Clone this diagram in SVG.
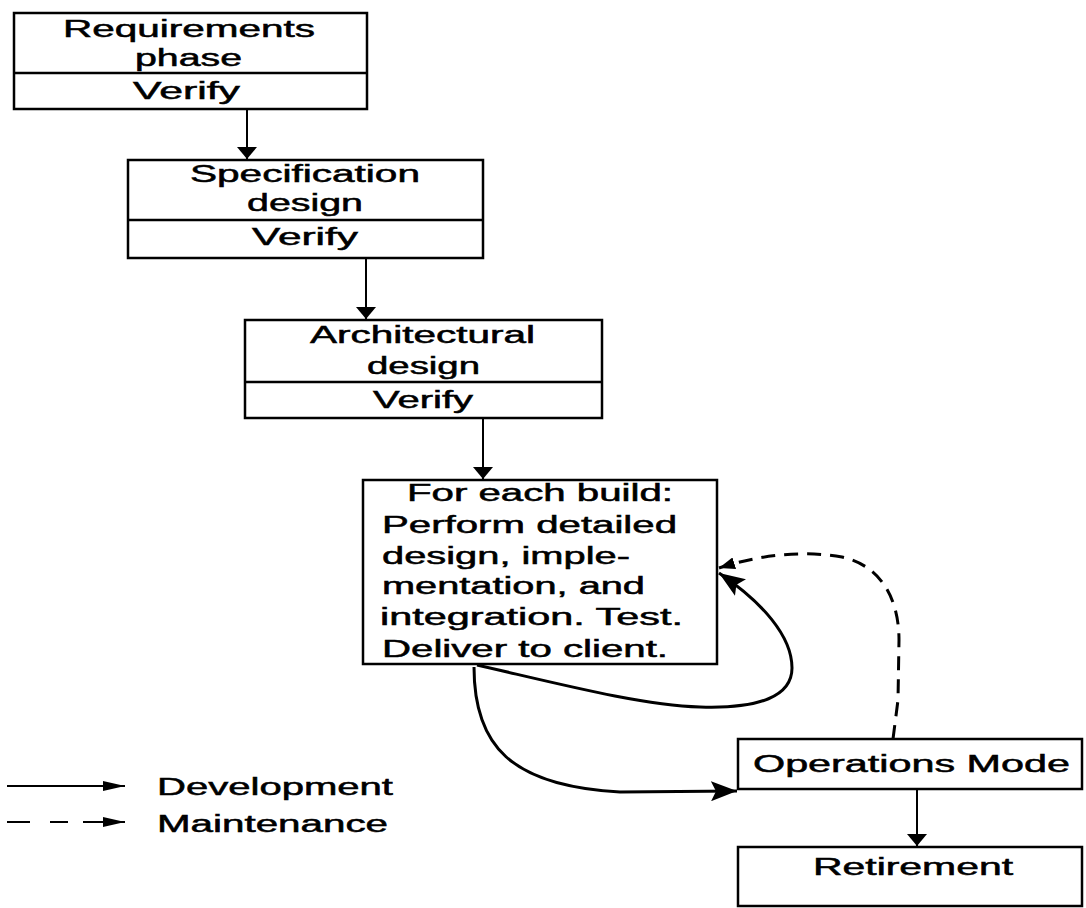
<svg xmlns="http://www.w3.org/2000/svg" width="1086" height="908" viewBox="0 0 1086 908">
<style>
  .box { fill: #fff; stroke: #000; stroke-width: 2.5; }
  .div { stroke: #000; stroke-width: 2.5; }
  .t { font-family: "Liberation Sans", Arial, sans-serif; font-size: 23px; fill: #000; stroke: #000; stroke-width: 0.5; }
  .ln { fill: none; stroke: #000; stroke-width: 2; }
  .dev { fill: none; stroke: #000; stroke-width: 3; }
  .mnt { fill: none; stroke: #000; stroke-width: 3; stroke-dasharray: 14 9; }
</style>
<defs>
  <marker id="ah" markerUnits="userSpaceOnUse" viewBox="0 0 12 20" refX="12" refY="10" markerWidth="12" markerHeight="20" orient="auto">
    <path d="M0 0 L12 10 L0 20 z" fill="#000"/>
  </marker>
  <marker id="ahL" markerUnits="userSpaceOnUse" viewBox="0 0 26 20" refX="26" refY="10" markerWidth="26" markerHeight="20" orient="auto">
    <path d="M0 0 L26 10 L0 20 L5 10 z" fill="#000"/>
  </marker>
  <marker id="ahS" markerUnits="userSpaceOnUse" viewBox="0 0 16 12" refX="16" refY="6" markerWidth="16" markerHeight="12" orient="auto">
    <path d="M0 0 L16 6 L0 12 z" fill="#000"/>
  </marker>
  <marker id="ahLeg" markerUnits="userSpaceOnUse" viewBox="0 0 22 10" refX="22" refY="5" markerWidth="22" markerHeight="10" orient="auto">
    <path d="M0 0 L22 5 L0 10 z" fill="#000"/>
  </marker>
</defs>

<g id="requirements">
  <rect class="box" x="14" y="13" width="353" height="96"/>
  <line class="div" x1="14" y1="73" x2="367" y2="73"/>
  <text class="t" x="63" y="37" textLength="252" lengthAdjust="spacingAndGlyphs">Requirements</text>
  <text class="t" x="135" y="66" textLength="107" lengthAdjust="spacingAndGlyphs">phase</text>
  <text class="t" x="133" y="99" textLength="107" lengthAdjust="spacingAndGlyphs">Verify</text>
</g>

<g id="specification">
  <rect class="box" x="128" y="160" width="355" height="98"/>
  <line class="div" x1="128" y1="220" x2="483" y2="220"/>
  <text class="t" x="190" y="182" textLength="230" lengthAdjust="spacingAndGlyphs">Specification</text>
  <text class="t" x="247" y="211" textLength="116" lengthAdjust="spacingAndGlyphs">design</text>
  <text class="t" x="252" y="245" textLength="106" lengthAdjust="spacingAndGlyphs">Verify</text>
</g>

<g id="architectural">
  <rect class="box" x="245" y="320" width="357" height="98"/>
  <line class="div" x1="245" y1="382" x2="602" y2="382"/>
  <text class="t" x="310" y="343" textLength="225" lengthAdjust="spacingAndGlyphs">Architectural</text>
  <text class="t" x="367" y="374" textLength="113" lengthAdjust="spacingAndGlyphs">design</text>
  <text class="t" x="373" y="408" textLength="100" lengthAdjust="spacingAndGlyphs">Verify</text>
</g>

<g id="build">
  <rect class="box" x="363" y="480" width="354" height="184"/>
  <text class="t" x="407" y="501" textLength="266" lengthAdjust="spacingAndGlyphs">For each build:</text>
  <text class="t" x="382" y="533" textLength="295" lengthAdjust="spacingAndGlyphs">Perform detailed</text>
  <text class="t" x="382" y="564" textLength="248" lengthAdjust="spacingAndGlyphs">design, imple-</text>
  <text class="t" x="382" y="594" textLength="263" lengthAdjust="spacingAndGlyphs">mentation, and</text>
  <text class="t" x="380" y="625" textLength="303" lengthAdjust="spacingAndGlyphs">integration. Test.</text>
  <text class="t" x="382" y="657" textLength="286" lengthAdjust="spacingAndGlyphs">Deliver to client.</text>
</g>

<g id="operations">
  <rect class="box" x="738" y="739" width="344" height="50"/>
  <text class="t" x="753" y="772" textLength="317" lengthAdjust="spacingAndGlyphs">Operations Mode</text>
</g>

<g id="retirement">
  <rect class="box" x="738" y="847" width="344" height="59"/>
  <text class="t" x="813" y="875" textLength="200" lengthAdjust="spacingAndGlyphs">Retirement</text>
</g>

<g id="connectors">
  <line class="ln" x1="247" y1="109" x2="247" y2="159" marker-end="url(#ah)"/>
  <line class="ln" x1="366" y1="258" x2="366" y2="319" marker-end="url(#ah)"/>
  <line class="ln" x1="483" y1="418" x2="483" y2="479" marker-end="url(#ah)"/>
  <line class="ln" x1="917" y1="789" x2="917" y2="846" marker-end="url(#ah)"/>
  <path class="dev" d="M477 665 C560 684 640 705 700 707 C760 709 792 696 792 668 C792 636 762 602 719 573" marker-end="url(#ahL)"/>
  <path class="dev" d="M474 667 C474 745 510 786 620 792 L737 791" marker-end="url(#ahL)"/>
  <path class="mnt" d="M893 739 L898 700 L899 640 C899 600 882 566 842 557 C800 550 760 555 719 568" marker-end="url(#ahS)"/>
</g>

<g id="legend">
  <line class="ln" x1="7" y1="786" x2="125" y2="786" marker-end="url(#ahLeg)"/>
  <line class="ln" x1="7" y1="822" x2="30" y2="822"/>
  <line class="ln" x1="50" y1="822" x2="68" y2="822"/>
  <line class="ln" x1="83" y1="822" x2="125" y2="822" marker-end="url(#ahLeg)"/>
  <text class="t" x="157" y="795" textLength="236" lengthAdjust="spacingAndGlyphs">Development</text>
  <text class="t" x="157" y="832" textLength="231" lengthAdjust="spacingAndGlyphs">Maintenance</text>
</g>
</svg>
